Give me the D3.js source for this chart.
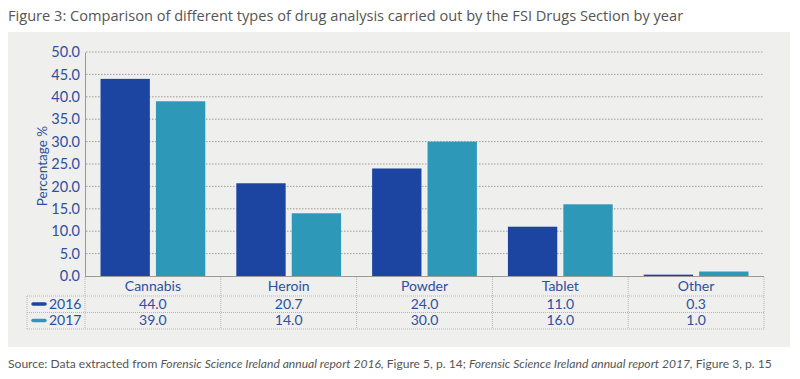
<!DOCTYPE html>
<html lang="en">
<head>
<meta charset="utf-8">
<title>FSI Drugs Section</title>
<script src="https://cdn.jsdelivr.net/npm/d3@7/dist/d3.min.js"></script>
<style>
  body {margin: 0; background: white;}
  svg text {font-family: Lato, "Open Sans", sans-serif;}
  .grid line {stroke: #9a9a9a; stroke-dasharray: 1.5 1.5; stroke-width: 1;}
  .tbl {stroke: #b5b5b5; stroke-dasharray: 1 1; stroke-width: 1;}
</style>
</head>
<body>
<svg width="800" height="379"></svg>
<script>
// donnees
var categories = ["Cannabis", "Heroin", "Powder", "Tablet", "Other"];
var annees = ["2016", "2017"];
var valeurs2016 = [44.0, 20.7, 24.0, 11.0, 0.3];
var valeurs2017 = [39.0, 14.0, 30.0, 16.0, 1.0];
var ticksY = [0, 5, 10, 15, 20, 25, 30, 35, 40, 45, 50];

var series = [valeurs2016, valeurs2017];
var couleurs = ["#1b45a0", "#2e98b8"];
var bleuTexte = "#2d4f9e";

var svg = d3.select("svg");

// panneau gris
svg.append("rect")
  .attr("x", 8).attr("y", 32)
  .attr("width", 782).attr("height", 315)
  .attr("fill", "#efefee");

// titre
svg.append("text")
  .attr("x", 8).attr("y", 21)
  .attr("fill", "#555")
  .style("font-family", "'Open Sans', sans-serif")
  .style("font-size", "14.6px")
  .text("Figure 3: Comparison of different types of drug analysis carried out by the FSI Drugs Section by year");

var x = d3.scaleBand()
  .domain(categories)
  .range([85, 764]);

var xIn = d3.scaleBand()
  .domain(annees)
  .range([0, x.bandwidth()])
  .paddingInner(0.11)
  .paddingOuter(0.28);

var y = d3.scaleLinear()
  .domain([0, 50])
  .range([276, 52]);

// grille
svg.append("g")
  .classed("grid", true)
  .selectAll("line")
  .data(ticksY.slice(1))
  .enter()
  .append("line")
    .attr("x1", 86).attr("x2", 764)
    .attr("y1", function (d) { return y(d); })
    .attr("y2", function (d) { return y(d); });

// axe vertical
var axeY = d3.axisLeft(y)
  .tickValues(ticksY)
  .tickFormat(d3.format(".1f"))
  .tickSize(0)
  .tickPadding(5);

var gAxe = svg.append("g")
  .attr("transform", "translate(85,0)")
  .call(axeY);
gAxe.select(".domain").attr("stroke", "#999");
gAxe.selectAll("text")
  .attr("fill", bleuTexte)
  .style("font-size", "14.5px");

svg.append("text")
  .attr("transform", "translate(47," + (y(25) + 2) + ") rotate(-90)")
  .attr("text-anchor", "middle")
  .attr("fill", bleuTexte)
  .style("font-size", "13.5px")
  .text("Percentage %");

// barres
series.forEach(function (vals, s) {
  svg.append("g")
    .selectAll("rect")
    .data(vals)
    .enter()
    .append("rect")
      .attr("x", function (d, i) { return x(categories[i]) + xIn(annees[s]); })
      .attr("width", xIn.bandwidth())
      .attr("y", function (d) { return y(d); })
      .attr("height", function (d) { return y(0) - y(d); })
      .attr("fill", couleurs[s]);
});

// ligne de base
svg.append("line")
  .attr("x1", 85).attr("x2", 764)
  .attr("y1", 276.5).attr("y2", 276.5)
  .attr("stroke", "#999");

// tableau
var lignesY = [296, 312.5, 329];
var gTab = svg.append("g");
lignesY.forEach(function (ly) {
  gTab.append("line").classed("tbl", true)
    .attr("x1", 27).attr("x2", 764)
    .attr("y1", ly).attr("y2", ly);
});
gTab.append("line").classed("tbl", true)
  .attr("x1", 27).attr("x2", 27).attr("y1", 296).attr("y2", 329);
categories.concat([null]).forEach(function (c, i) {
  var bx = c ? x(c) : x.range()[1];
  gTab.append("line").classed("tbl", true)
    .attr("x1", bx).attr("x2", bx).attr("y1", 277).attr("y2", 329);
});

// noms des categories
svg.append("g")
  .selectAll("text")
  .data(categories)
  .enter()
  .append("text")
    .attr("x", function (d) { return x(d) + x.bandwidth() / 2; })
    .attr("y", 291)
    .attr("text-anchor", "middle")
    .attr("fill", bleuTexte)
    .style("font-size", "14px")
    .text(function (d) { return d; });

// valeurs et legende
var rangY = [308.5, 325];
series.forEach(function (vals, s) {
  svg.append("line")
    .attr("x1", 33).attr("x2", 45)
    .attr("y1", rangY[s] - 4.5).attr("y2", rangY[s] - 4.5)
    .attr("stroke", couleurs[s])
    .attr("stroke-width", 3.5)
    .attr("stroke-linecap", "round");
  svg.append("text")
    .attr("x", 49).attr("y", rangY[s])
    .attr("fill", bleuTexte)
    .style("font-size", "14px")
    .text(annees[s]);
  svg.append("g")
    .selectAll("text")
    .data(vals)
    .enter()
    .append("text")
      .attr("x", function (d, i) { return x(categories[i]) + x.bandwidth() / 2; })
      .attr("y", rangY[s])
      .attr("text-anchor", "middle")
      .attr("fill", bleuTexte)
      .style("font-size", "14px")
      .text(function (d) { return d3.format(".1f")(d); });
});

// source
var src = svg.append("text")
  .attr("x", 8).attr("y", 368)
  .attr("fill", "#555")
  .style("font-size", "12.1px");
src.append("tspan").text("Source: Data extracted from ");
src.append("tspan").style("font-style", "italic").text("Forensic Science Ireland annual report 2016,");
src.append("tspan").text(" Figure 5, p. 14; ");
src.append("tspan").style("font-style", "italic").text("Forensic Science Ireland annual report 2017,");
src.append("tspan").text(" Figure 3, p. 15");
</script>
</body>
</html>
